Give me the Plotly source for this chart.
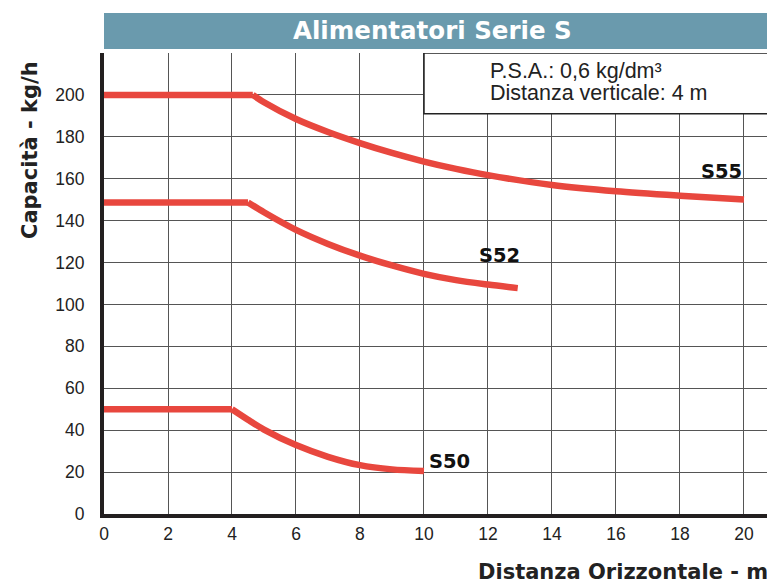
import plotly.graph_objects as go

# Data
s50_x = [0, 4, 4.5, 5, 6, 7, 8, 9, 10]
s50_y = [50, 50, 45, 40.3, 32.9, 27.3, 23.3, 21.3, 20.5]

s52_x = [0, 4.5, 5, 6, 7, 8, 9, 10, 11, 12, 12.93]
s52_y = [148.7, 148.7, 144, 135.6, 128.9, 123.3, 118.6, 114.6, 111.6, 109.5, 107.8]

s55_x = [0, 4.65, 5, 6, 7, 8, 9, 10, 11, 12, 14, 16, 18, 20]
s55_y = [200, 200, 196.5, 188.5, 182.3, 177.0, 172.3, 168.2, 164.7, 161.7, 157, 154, 151.9, 150.1]

series_names = ["S50", "S52", "S55"]
x_ticks = list(range(0, 21, 2))
y_ticks = list(range(0, 201, 20))

title_text = "Alimentatori Serie S"
info_lines = ["P.S.A.: 0,6 kg/dm³", "Distanza verticale: 4 m"]
y_title = "Capacità - kg/h"
x_title = "Distanza Orizzontale - m"

RED = "#E8473E"
FONT = "Liberation Sans, Arial, sans-serif"
BFONT = "DejaVu Sans, sans-serif"

fig = go.Figure()
for xs, ys, name in [(s50_x, s50_y, "S50"), (s52_x, s52_y, "S52"), (s55_x, s55_y, "S55")]:
    # flat part up to the knee
    fig.add_trace(go.Scatter(x=xs[:2], y=ys[:2], mode="lines", name=name,
                             line=dict(color=RED, width=6.5), showlegend=False))
    # decreasing curve from the knee
    fig.add_trace(go.Scatter(x=xs[1:], y=ys[1:], mode="lines", name=name,
                             line=dict(color=RED, width=6.5, shape="spline", smoothing=0.8),
                             showlegend=False))

OFF = 8  # page body margin offset
W, H = 775 - OFF, 583 - OFF
ml, mr, mt = 104 - OFF, 0, 53 - OFF
mb = H - (514 - OFF)
pw, ph = W - ml - mr, H - mt - mb

def px_to_paper_x(px):
    return (px - OFF - ml) / pw

def px_to_paper_y(py):
    return (H - mb - (py - OFF)) / ph

fig.update_layout(
    width=W, height=H,
    margin=dict(l=ml, r=mr, t=mt, b=mb),
    paper_bgcolor="white", plot_bgcolor="white",
    font=dict(family=FONT, color="#222"),
    xaxis=dict(range=[0, 20.97], tickvals=x_ticks, showgrid=True, gridcolor="#555",
               gridwidth=1.1, showline=True, linecolor="#231f20", linewidth=4,
               zeroline=False, ticks="", tickfont=dict(size=17.5, color="#222"),
               ticklabelstandoff=1),
    yaxis=dict(range=[0, 220], tickvals=y_ticks, showgrid=True, gridcolor="#555",
               gridwidth=1.1, showline=True, linecolor="#231f20", linewidth=4,
               zeroline=False, ticks="", tickfont=dict(size=17.5, color="#222"),
               ticklabelstandoff=12),
)

# Title bar
fig.add_shape(type="rect", xref="paper", yref="paper",
              x0=px_to_paper_x(104), x1=px_to_paper_x(775),
              y0=px_to_paper_y(49), y1=px_to_paper_y(13),
              fillcolor="#6A9AAD", line=dict(width=0), layer="above")
fig.add_annotation(text=f"<b>{title_text}</b>", xref="paper", yref="paper",
                   x=px_to_paper_x(432), y=px_to_paper_y(31), showarrow=False,
                   font=dict(size=24.5, color="white", family=BFONT),
                   xanchor="center", yanchor="middle")

# Info box
fig.add_shape(type="rect", xref="x", yref="y", x0=10, x1=20.93, y0=191, y1=220,
              fillcolor="white", line=dict(color="#222", width=1.5), layer="above")
fig.add_annotation(text=info_lines[0], xref="x", yref="y", x=12.0, y=211.5,
                   showarrow=False, xanchor="left", yanchor="middle",
                   font=dict(size=21.5, color="#222", family=FONT))
fig.add_annotation(text=info_lines[1], xref="x", yref="y", x=12.0, y=201,
                   showarrow=False, xanchor="left", yanchor="middle",
                   font=dict(size=21.5, color="#222", family=FONT))

# Series labels
fig.add_annotation(text="<b>S55</b>", xref="x", yref="y", x=20.0, y=163.5,
                   showarrow=False, xanchor="right", yanchor="middle",
                   font=dict(size=19.5, color="#111", family=BFONT))
fig.add_annotation(text="<b>S52</b>", xref="x", yref="y", x=13.05, y=123.3,
                   showarrow=False, xanchor="right", yanchor="middle",
                   font=dict(size=19.5, color="#111", family=BFONT))
fig.add_annotation(text="<b>S50</b>", xref="x", yref="y", x=10.1, y=25.2,
                   showarrow=False, xanchor="left", yanchor="middle",
                   font=dict(size=19.5, color="#111", family=BFONT))

# Axis titles
fig.add_annotation(text=f"<b>{y_title}</b>", xref="paper", yref="paper",
                   x=px_to_paper_x(30), y=px_to_paper_y(150), textangle=-90,
                   showarrow=False, xanchor="center", yanchor="middle",
                   font=dict(size=21, color="#222", family=BFONT))
fig.add_annotation(text=f"<b>{x_title}</b>", xref="paper", yref="paper",
                   x=px_to_paper_x(770), y=px_to_paper_y(572),
                   showarrow=False, xanchor="right", yanchor="middle",
                   font=dict(size=21, color="#222", family=BFONT))

fig.write_html("out.html")
